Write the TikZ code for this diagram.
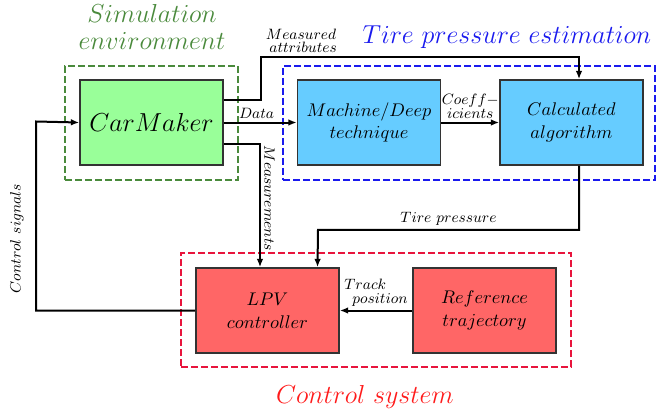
\RequirePackage{fix-cm}
\documentclass[tikz,border=0pt]{standalone}
\usepackage{amsmath}
\usetikzlibrary{arrows.meta}
\definecolor{simgreen}{HTML}{99FF99}
\definecolor{simframe}{HTML}{4A8A3C}
\definecolor{tireblue}{HTML}{66CCFF}
\definecolor{tireframe}{HTML}{1A1AEE}
\definecolor{ctrlred}{HTML}{FF6666}
\definecolor{ctrlframe}{HTML}{E8143C}
\definecolor{ctrltext}{HTML}{FF1A1A}
\begin{document}
\begin{tikzpicture}[x=0.6pt, y=-0.6pt,
    block/.style ={rectangle, draw=black!80, line width=1pt, minimum width=85.8pt, minimum height=51pt, align=center, inner sep=0pt, font=\fontsize{11}{13.5}\selectfont},
    group/.style ={rectangle, draw, line width=0.8pt, dash pattern=on 4pt off 2pt, inner sep=0pt},
    arr/.style ={line width=1.2pt, -{Latex[length=5pt, width=4pt]}},
    lbl/.style ={font=\small, align=center, inner sep=2pt},
    title/.style ={font=\fontsize{15.6}{19}\selectfont, align=center}]
   \useasboundingbox (0,0) rectangle (657,416);
   \node[group, draw=simframe, minimum width=103.8pt, minimum height=68.4pt] (simgroup) at (151.5,123) {};
   \node[group, draw=tireframe, minimum width=223.2pt, minimum height=68.4pt] (tiregroup) at (469,123) {};
   \node[group, draw=ctrlframe, minimum width=234pt, minimum height=68.4pt] (ctrlgroup) at (376,310) {};
   \node[title, text=simframe] (simtitle) at (152,27) {$Simulation$\\[-3pt]$environment$};
   \node[title, text=tireframe] (tiretitle) at (507,37) {$Tire\ pressure\ estimation$};
   \node[title, text=ctrltext] (ctrltitle) at (365,397) {$Control\ system$};
   \node[block, fill=simgreen, font=\fontsize{15.6}{19}\selectfont] (car) at (151.5,122.5) {$CarMaker$};
   \node[block, fill=tireblue] (ml) at (369,122.5) {$Machine/Deep$\\$technique$};
   \node[block, fill=tireblue] (calc) at (571.5,122.5) {$Calculated$\\$algorithm$};
   \node[block, fill=ctrlred] (lpv) at (267.5,310.5) {$LPV$\\$controller$};
   \node[block, fill=ctrlred] (ref) at (484.5,310.5) {$Reference$\\$trajectory$};
   \draw[arr] ([yshift=13.5pt]car.east) -- ++(37,0) -- node[lbl, pos=1, above right]{$Measured$\\[-3pt]$\;attributes$} ++(0,-43) -| ([xshift=4.5pt]calc.north);
   \draw[arr] (car.east) -- node[lbl, above, pos=0.45]{$Data$} (ml.west);
   \draw[arr] (ml.east) -- node[lbl, above]{$Coeff-$\\[-3pt]$icients$} (calc.west);
   \draw[arr] ([yshift=-13pt]car.east) -| node[lbl, pos=0.72, sloped, above]{$Measurements$} ([xshift=-4.5pt]lpv.north);
   \draw[arr] ([xshift=4.5pt]calc.south) -- ++(0,64) -- node[lbl, above]{$Tire\ pressure$} ++(-261,0) -- ([xshift=30pt]lpv.north);
   \draw[arr] (ref.west) -- node[lbl, above, align=left]{$Track$\\[-3pt]\hspace{4.8pt}$position$} (lpv.east);
   \draw[arr] (lpv.west) -- ++(-159,0) -- node[lbl, pos=0.38, sloped, above=5pt]{$Control\ signals$} ++(0,-189) -- (car.west);
\end{tikzpicture}
\end{document}
